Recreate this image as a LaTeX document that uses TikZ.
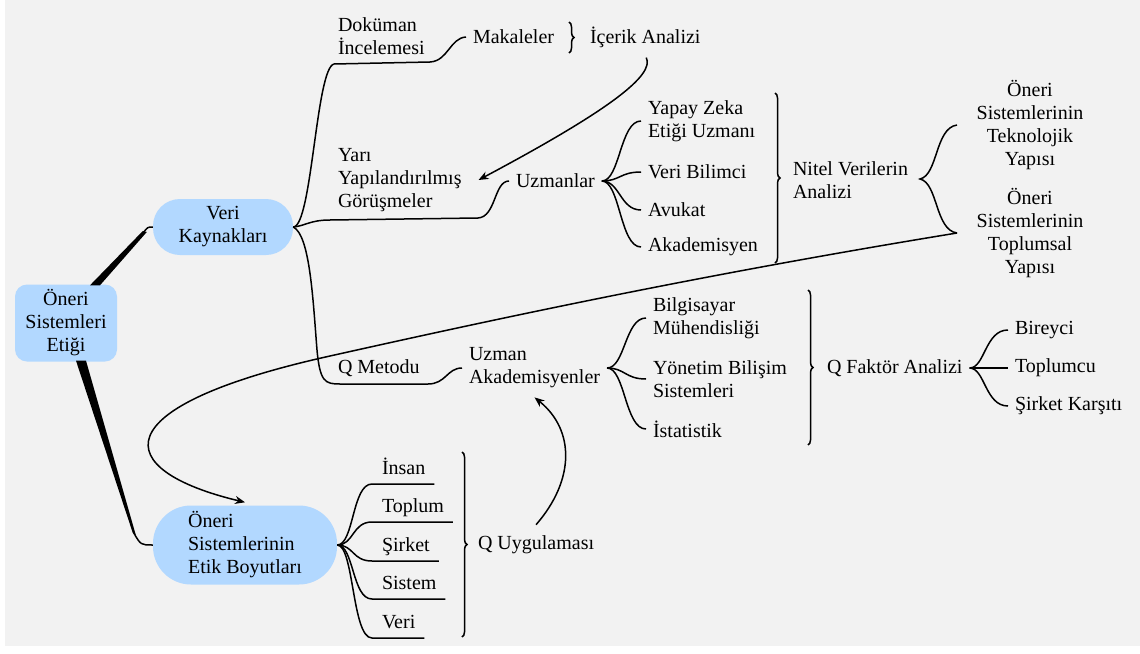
\documentclass[tikz,border=0pt]{standalone}
\usepackage{fontspec}
\setmainfont{Liberation Serif}
\usetikzlibrary{calc,arrows.meta,decorations.pathreplacing}
\definecolor{paper}{RGB}{242,242,242}
\definecolor{topicblue}{RGB}{178,216,255}
\tikzset{
  topic/.style={fill=topicblue, align=center, inner sep=0pt},
  leaf/.style={anchor=west, align=left, inner sep=0pt, outer xsep=7pt},
  link/.style={line width=1.5pt},
  arr/.style={link, -{Stealth[length=10pt,width=8pt]}},
  bracket/.style={link, decorate, decoration={brace, amplitude=5pt}},
}
\begin{document}
\begin{tikzpicture}[x=1pt, y=-1pt, font=\fontsize{20}{23}\selectfont]
\useasboundingbox (0,0) rectangle (1140,653);
\fill[white] (0,0) rectangle (1140,653);
\fill[paper] (5,0) rectangle (1140,646);

% ana konular
\node[topic, minimum width=102pt, minimum height=77pt, rounded corners=12pt] (root) at (66,323) {Öneri\\Sistemleri\\Etiği};
\node[topic, minimum width=140pt, minimum height=56pt, rounded corners=27pt] (veri) at (223,227) {Veri\\Kaynakları};
\node[topic, minimum width=184pt, minimum height=79pt, rounded corners=38pt, align=left] (etik) at (245,545) {Öneri\\Sistemlerinin\\Etik Boyutları};

% kalin kollar
\fill ($(root.north)+(24,1)$) -- ($(root.north)+(34,1)$) -- ($(veri.west)+(-6,5)$) -- ($(veri.west)+(-10,4)$) -- cycle;
\draw[link] ($(veri.west)+(-9,5)$) .. controls ($(veri.west)+(-5,0)$) .. (veri.west);
\fill ($(root.south)+(10,-1)$) -- ($(root.south)+(20,-1)$) -- ($(etik.west)+(-17,-10)$) -- ($(etik.west)+(-20,-12)$) -- cycle;
\draw[link] ($(etik.west)+(-19,-12)$) .. controls ($(etik.west)+(-12,0)$) .. (etik.west);

% veri kaynaklari
\node[leaf] (dok) at (331,36) {Doküman\\İncelemesi};
\node[leaf] (mak) at (466,37) {Makaleler};
\node[leaf] (icerik) at (583,37) {İçerik Analizi};
\node[leaf] (yari) at (331,180) {Yarı\\Yapılandırılmış\\Görüşmeler};
\node[leaf] (uzm) at (509,181) {Uzmanlar};
\node[leaf] (qmet) at (331,368) {Q Metodu};
\node[leaf] (uzak) at (462,368) {Uzman\\Akademisyenler};

\draw[link] (veri.east) .. controls (312,227) and (316,68) .. (334,64) -- (430,62) .. controls (448,61) and (450,38) .. (mak.west);
\draw[link] (veri.east) .. controls (305,226) and (310,220) .. (330,220) -- (478,218) .. controls (496,217) and (494,181) .. (uzm.west);
\draw[link] (veri.east) .. controls (310,235) and (313,300) .. (317,350) .. controls (320,382) and (325,384) .. (340,384) -- (428,384) .. controls (446,384) and (447,368) .. (uzak.west);
\draw[bracket] (569,22) -- (569,53);
\draw[arr] ($(icerik.south)+(1,10)$) .. controls (655,75) and (610,110) .. ($(yari.east)+(10,0)$);

% uzmanlar
\node[leaf] (yz) at (641,121) {Yapay Zeka\\Etiği Uzmanı};
\node[leaf] (vb) at (641,172) {Veri Bilimci};
\node[leaf] (av) at (641,210) {Avukat};
\node[leaf] (ak) at (641,247) {Akademisyen};
\foreach \t/\y in {yz/121, vb/172, av/210, ak/247}
  \draw[link] (uzm.east) .. controls (620,181) and (620,\y) .. (\t.west);
\draw[bracket] (775,93) -- (775,263);
\node[leaf] (nitel) at (786,180) {Nitel Verilerin\\Analizi};
\draw[link] (957,125) .. controls (935,128) and (938,175) .. (920,179) .. controls (938,183) and (935,230) .. (957,233);
\node[leaf, anchor=center, align=center] (tek) at (1030,125) {Öneri\\Sistemlerinin\\Teknolojik\\Yapısı};
\node[leaf, anchor=center, align=center] (top) at (1030,233) {Öneri\\Sistemlerinin\\Toplumsal\\Yapısı};
\draw[arr] (957,233) .. controls (700,275) and (500,318) .. (330,356) .. controls (100,407) and (110,470) .. ($(etik.north)+(0,-3)$);

% uzman akademisyenler
\node[leaf] (bm) at (646,318) {Bilgisayar\\Mühendisliği};
\node[leaf] (ybs) at (646,379) {Yönetim Bilişim\\Sistemleri};
\node[leaf] (ist) at (646,429) {İstatistik};
\foreach \t/\y in {bm/318, ybs/379, ist/429}
  \draw[link] (uzak.east) .. controls (625,368) and (625,\y) .. (\t.west);
\draw[bracket] (808,290) -- (808,445);
\node[leaf] (qfa) at (820,368) {Q Faktör Analizi};
\node[leaf] (bir) at (1008,330) {Bireyci};
\node[leaf] (tc) at (1008,368) {Toplumcu};
\node[leaf] (sk) at (1008,406) {Şirket Karşıtı};
\foreach \t/\y in {bir/330, tc/368, sk/406}
  \draw[link] (qfa.east) .. controls (985,368) and (985,\y) .. (\t.west);

% etik boyutlar
\foreach \n/\lbl/\y in {1/İnsan/474, 2/Toplum/512, 3/Şirket/551, 4/Sistem/589, 5/Veri/628}{
  \node[leaf, anchor=base west] (boy\n) at (375,\y) {\lbl};
  \draw[link] (etik.east) .. controls (354,545) and (352,\y+10) .. ($(boy\n.base west)+(-3,10)$) -- ($(boy\n.base east)+(2,10)$);
}
\draw[bracket] (462,452) -- (462,637);
\node[leaf] (qu) at (471,545) {Q Uygulaması};
\draw[arr] ($(qu.north)+(0,-11)$) .. controls (575,480) and (575,430) .. ($(uzak.south)+(0,9)$);
\end{tikzpicture}
\end{document}
